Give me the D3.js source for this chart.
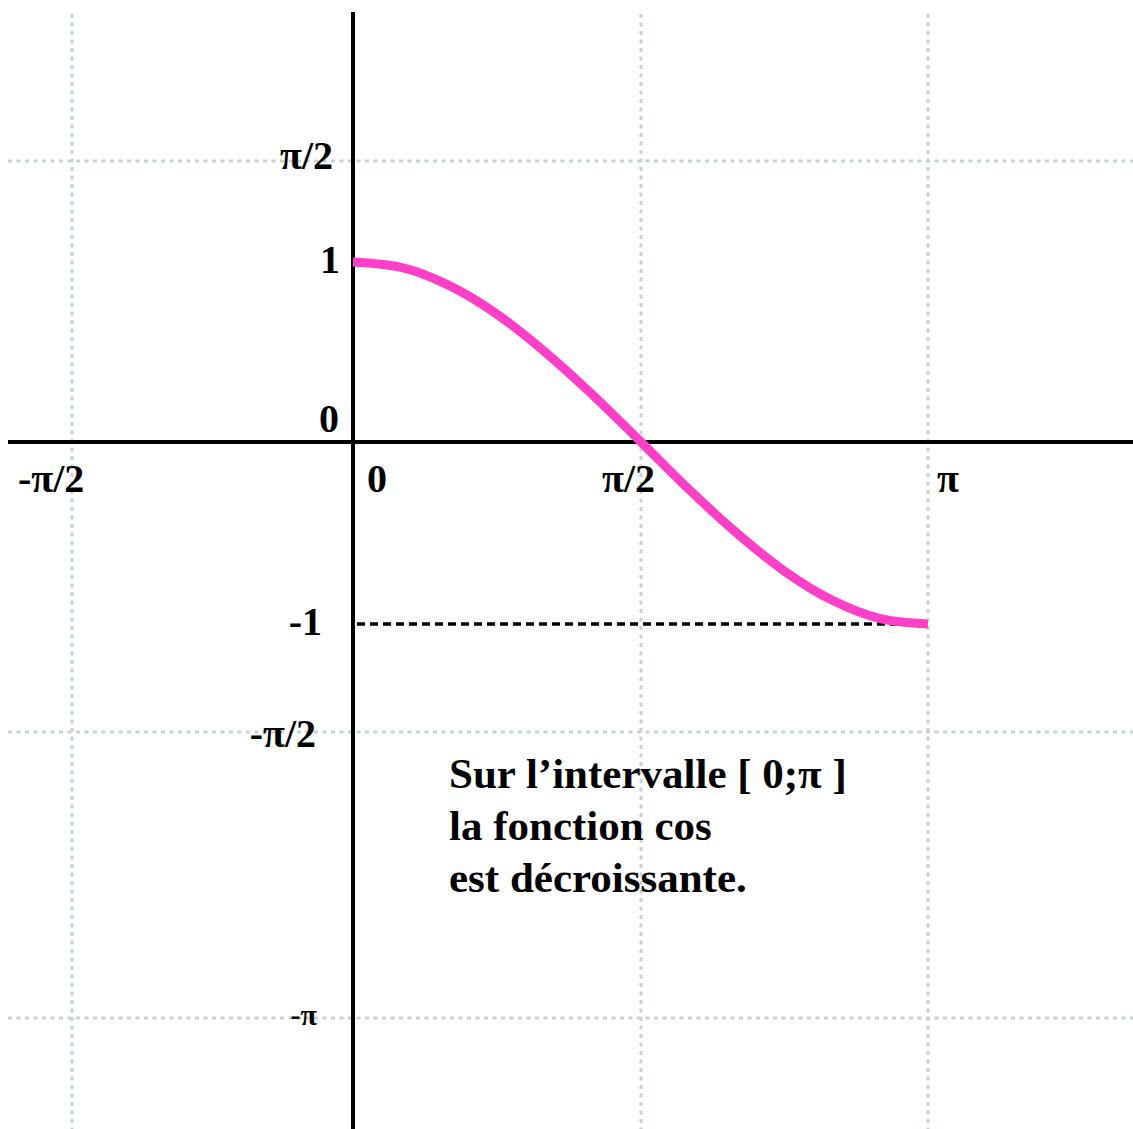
<!DOCTYPE html>
<html>
<head>
<meta charset="utf-8">
<script src="https://cdn.jsdelivr.net/npm/d3@7"></script>
<style>
  html, body { margin: 0; padding: 0; background: #fff; }
  svg { display: block; }
  text { font-family: "Liberation Serif", "Times New Roman", serif; font-weight: bold; fill: #000; }
</style>
</head>
<body>
<svg id="chart" width="1133" height="1129"></svg>
<script>
const PI = Math.PI;
// grid positions (in units)
const xGridValues = [-PI / 2, PI / 2, PI];
const yGridValues = [PI / 2, -PI / 2, -PI];
// tick labels
const xTickValues = [-PI / 2, 0, PI / 2, PI];
const xTickLabels = ["-π/2", "0", "π/2", "π"];
const yTickValues = [PI / 2, 1, 0, -1, -PI / 2, -PI];
const yTickLabels = ["π/2", "1", "0", "-1", "-π/2", "-π"];
// curve points (x in multiples of π/12)
const curveX = [0, PI/12, 2*PI/12, 3*PI/12, 4*PI/12, 5*PI/12, 6*PI/12, 7*PI/12, 8*PI/12, 9*PI/12, 10*PI/12, 11*PI/12, PI];
const curveY = [1, 0.97, 0.87, 0.71, 0.5, 0.26, 0, -0.26, -0.5, -0.71, -0.87, -0.97, -1];
const noteLines = ["Sur l\u2019intervalle [ 0;\u03c0 ]", "la fonction cos", "est décroissante."];

const svg = d3.select("#chart");
// the drawing is not perfectly uniform: piecewise-linear scales
const x = d3.scaleLinear().domain([-PI / 2, 0, PI / 2, PI]).range([72, 353, 641, 928]);
const y = d3.scaleLinear().domain([-PI, -PI / 2, -1, 0, 1, PI / 2]).range([1018, 732, 624, 442, 262, 161]);

const gridColor = "#c6d3d4";
// vertical grid
svg.append("g").selectAll("line").data(xGridValues).join("line")
  .attr("x1", d => x(d)).attr("x2", d => x(d))
  .attr("y1", 14).attr("y2", 1129)
  .attr("stroke", gridColor).attr("stroke-width", 3)
  .attr("stroke-dasharray", "4,4.5");
// horizontal grid
svg.append("g").selectAll("line").data(yGridValues).join("line")
  .attr("x1", 8).attr("x2", 1133)
  .attr("y1", d => y(d)).attr("y2", d => y(d))
  .attr("stroke", gridColor).attr("stroke-width", 3)
  .attr("stroke-dasharray", "4,4.5");

// dashed line at -1
svg.append("line")
  .attr("x1", x(0) + 4).attr("x2", x(PI))
  .attr("y1", y(-1)).attr("y2", y(-1))
  .attr("stroke", "#000").attr("stroke-width", 3.5)
  .attr("stroke-dasharray", "8,5");

// axes
svg.append("line")
  .attr("x1", 8).attr("x2", 1133)
  .attr("y1", y(0)).attr("y2", y(0))
  .attr("stroke", "#000").attr("stroke-width", 4);
svg.append("line")
  .attr("x1", x(0)).attr("x2", x(0))
  .attr("y1", 12).attr("y2", 1129)
  .attr("stroke", "#000").attr("stroke-width", 4);

// curve
const pts = curveX.map((v, i) => [v, curveY[i]]);
svg.append("path")
  .datum(pts)
  .attr("fill", "none")
  .attr("stroke", "#ff3fc8")
  .attr("stroke-width", 9)
  .attr("d", d3.line().x(d => x(d[0])).y(d => y(d[1])).curve(d3.curveMonotoneX));

// x tick labels (start-anchored)
const xOffsets = [-54, 14, -39, 9];
svg.append("g").selectAll("text").data(xTickValues).join("text")
  .attr("x", (d, i) => x(d) + xOffsets[i])
  .attr("y", y(0) + 50)
  .attr("font-size", 40)
  .text((d, i) => xTickLabels[i]);

// y tick labels (end-anchored)
const yXOffsets = [-20, -13, -14, -31, -37, -36];
const yYOffsets = [8, 11, -10, 11, 15, 7];
svg.append("g").selectAll("text").data(yTickValues).join("text")
  .attr("x", (d, i) => x(0) + yXOffsets[i])
  .attr("y", (d, i) => y(d) + yYOffsets[i])
  .attr("text-anchor", "end")
  .attr("font-size", (d, i) => i === 5 ? 30 : 40)
  .text((d, i) => yTickLabels[i]);

// note
svg.append("g").selectAll("text").data(noteLines).join("text")
  .attr("x", 449)
  .attr("y", (d, i) => 788 + i * 52)
  .attr("font-size", 43)
  .text(d => d);
</script>
</body>
</html>
